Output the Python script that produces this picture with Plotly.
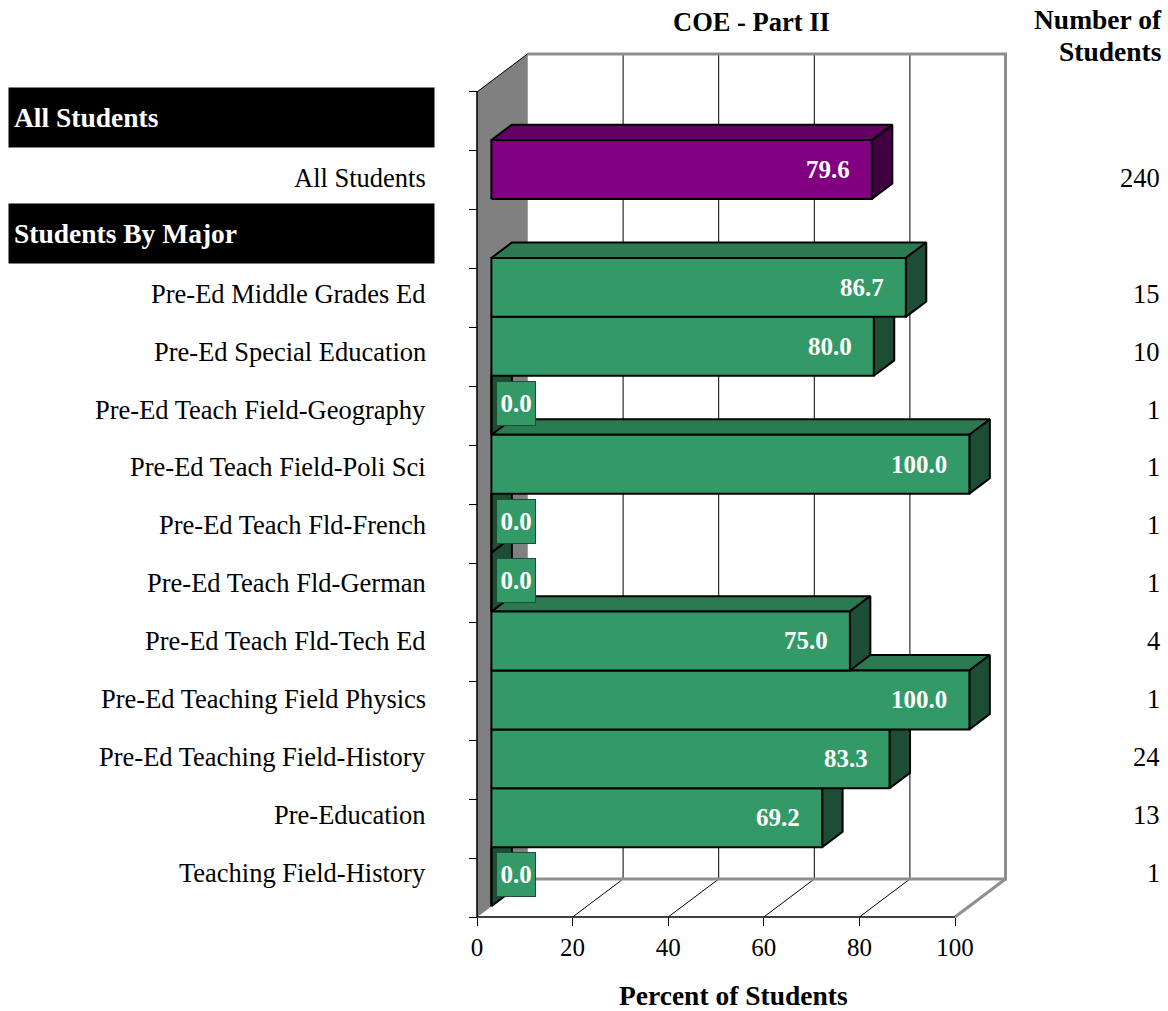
import plotly.graph_objects as go

# ---------------- data ----------------
row_labels = [
    "All Students",
    "All Students",
    "Students By Major",
    "Pre-Ed Middle Grades Ed",
    "Pre-Ed Special Education",
    "Pre-Ed Teach Field-Geography",
    "Pre-Ed Teach Field-Poli Sci",
    "Pre-Ed Teach Fld-French",
    "Pre-Ed Teach Fld-German",
    "Pre-Ed Teach Fld-Tech Ed",
    "Pre-Ed Teaching Field Physics",
    "Pre-Ed Teaching Field-History",
    "Pre-Education",
    "Teaching Field-History",
]
row_is_header = [True, False, True] + [False] * 11
percent = [None, 79.6, None, 86.7, 80.0, 0.0, 100.0, 0.0, 0.0, 75.0, 100.0, 83.3, 69.2, 0.0]
n_students = [None, 240, None, 15, 10, 1, 1, 1, 1, 4, 1, 24, 13, 1]
bar_group = [None, "all", None] + ["major"] * 11
x_ticks = [0, 20, 40, 60, 80, 100]
chart_title = "COE - Part II"
x_title = "Percent of Students"
count_title = ["Number of", "Students"]

# ---------------- geometry / style ----------------
W, H = 1168, 1011
SX, SY = 4.78, 58.93          # px per percent, px per row
X0, Y0 = 477, 917             # pixel of value 0 / front floor
N = len(row_labels)
XMAX = 100
DX = 50.5 / SX                # depth offset in x units
DY = 38.0 / SY                # depth offset in row units
ZF, ZB = 0.285, 0.69          # bar front/back depth fractions
LAB0, LSTEP = 120.0, 57.9     # label column layout (px)

PALETTE = {
    "all": ("#800080", "#640064", "#400040"),
    "major": ("#339966", "#2b7a52", "#1e4d36"),
}
SERIF = "Liberation Serif, Times New Roman, serif"
FRAME = "#8f8f8f"

fig = go.Figure()


def poly(xs, ys, fill, line_color="black", width=2.0):
    fig.add_trace(go.Scatter(
        x=list(xs) + [xs[0]], y=list(ys) + [ys[0]], mode="lines", fill="toself",
        fillcolor=fill, line=dict(color=line_color, width=width),
        hoverinfo="skip", showlegend=False))


def seg(xs, ys, color, width):
    fig.add_trace(go.Scatter(
        x=xs, y=ys, mode="lines", line=dict(color=color, width=width),
        hoverinfo="skip", showlegend=False))


# left wall
poly([0, DX, DX, 0], [0, DY, N + DY, N], "#808080", "#808080", 0.5)
# back wall grid lines and floor lines
for v in x_ticks[1:-1]:
    seg([v + DX, v + DX], [DY, N + DY], "black", 1)
    seg([v, v + DX], [0, DY], "black", 1)
# grey frame
seg([DX, XMAX + DX, XMAX + DX, DX], [N + DY, N + DY, DY, DY], FRAME, 3)
seg([XMAX, XMAX + DX], [0, DY], FRAME, 3)
# front axes
seg([0, XMAX], [0, 0], "black", 1.5)
seg([0, 0], [0, N], "black", 1.5)
seg([0, DX], [N, N + DY], "black", 1)

# bars (bottom rows first so upper bars overlap lower bars' top faces)
annotations = []
for i in range(N - 1, -1, -1):
    v = percent[i]
    if v is None:
        continue
    front, top, side = PALETTE[bar_group[i]]
    yb = N - 1 - i
    fx0, fx1 = ZF * DX, v + ZF * DX
    bx0, bx1 = ZB * DX, v + ZB * DX
    fy0, fy1 = yb + ZF * DY, yb + 1 + ZF * DY
    by0, by1 = yb + ZB * DY, yb + 1 + ZB * DY
    poly([fx0, fx1, bx1, bx0], [fy1, fy1, by1, by1], top)
    poly([fx1, bx1, bx1, fx1], [fy0, by0, by1, fy1], side)
    poly([fx0, fx1, fx1, fx0], [fy0, fy0, fy1, fy1], front)

# bar value labels
for i in range(N):
    v = percent[i]
    if v is None:
        continue
    front, top, side = PALETTE[bar_group[i]]
    yb = N - 1 - i
    yc = yb + 0.5 + ZF * DY
    if v > 0:
        annotations.append(dict(
            x=v + ZF * DX - 20 / SX, y=yc, xref="x", yref="y",
            xanchor="right", yanchor="middle", showarrow=False,
            text=f"<b>{v:.1f}</b>", font=dict(family=SERIF, size=25, color="white")))
    else:
        annotations.append(dict(
            x=ZF * DX + 4.5 / SX, y=yc + 2 / SY, xref="x", yref="y",
            xanchor="left", yanchor="middle", showarrow=False,
            text=f"<b>{v:.1f}</b>", font=dict(family=SERIF, size=25, color="white"),
            bgcolor=front, bordercolor="#1e4d36", borderwidth=1, borderpad=0,
            width=38, height=43))

# left labels, header boxes, right column counts
for i in range(N):
    y2 = N - 1 - i
    if row_is_header[i]:
        annotations.append(dict(
            x=8 / W, y=y2, xref="paper", yref="y2", xanchor="left", yanchor="middle",
            yshift=2.5, showarrow=False, align="left", text=f"<b>{row_labels[i]}</b>",
            font=dict(family=SERIF, size=27.5, color="white"),
            bgcolor="black", borderpad=5, width=415, height=49))
    else:
        annotations.append(dict(
            x=428 / W, y=y2, xref="paper", yref="y2", xanchor="right", yanchor="middle",
            showarrow=False, text=row_labels[i],
            font=dict(family=SERIF, size=26.5, color="black")))
    if n_students[i] is not None:
        annotations.append(dict(
            x=1162 / W, y=y2, xref="paper", yref="y2", xanchor="right", yanchor="middle",
            showarrow=False, text=str(n_students[i]),
            font=dict(family=SERIF, size=26.5, color="black")))

# titles
annotations.append(dict(x=751 / W, y=1 - 22 / H, xref="paper", yref="paper",
                        xanchor="center", yanchor="middle", showarrow=False,
                        text=f"<b>{chart_title}</b>",
                        font=dict(family=SERIF, size=26.5, color="black")))
for k, line in enumerate(count_title):
    annotations.append(dict(x=1164 / W, y=1 - (20 + 32 * k) / H, xref="paper", yref="paper",
                            xanchor="right", yanchor="middle", showarrow=False,
                            text=f"<b>{line}</b>",
                            font=dict(family=SERIF, size=27.5, color="black")))
annotations.append(dict(x=733.5 / W, y=1 - 995 / H, xref="paper", yref="paper",
                        xanchor="center", yanchor="middle", showarrow=False,
                        text=f"<b>{x_title}</b>",
                        font=dict(family=SERIF, size=27.5, color="black")))

fig.update_layout(
    width=W, height=H, autosize=False,
    margin=dict(l=0, r=0, t=0, b=0, pad=0),
    paper_bgcolor="white", plot_bgcolor="white",
    showlegend=False,
    xaxis=dict(range=[-X0 / SX, (W - X0) / SX], anchor="free", position=(H - Y0) / H,
               tickvals=x_ticks, ticktext=[str(t) for t in x_ticks],
               ticks="outside", ticklen=8, tickwidth=1, tickcolor="black",
               showline=False, showgrid=False, zeroline=False, fixedrange=True,
               tickfont=dict(family=SERIF, size=25, color="black")),
    yaxis=dict(range=[-(H - Y0) / SY, Y0 / SY], anchor="free", position=X0 / W,
               tickvals=list(range(N + 1)), ticks="outside", ticklen=8, tickwidth=1,
               tickcolor="black", showticklabels=False, showline=False,
               showgrid=False, zeroline=False, fixedrange=True),
    yaxis2=dict(range=[(N - 1) - (H - LAB0) / LSTEP, (N - 1) + LAB0 / LSTEP],
                overlaying="y", visible=False, fixedrange=True),
    annotations=annotations,
)

fig.write_html(
    "out.html",
    config={"displayModeBar": False, "staticPlot": True},
    post_script="document.body.style.margin='0';document.body.style.overflow='hidden';",
)
